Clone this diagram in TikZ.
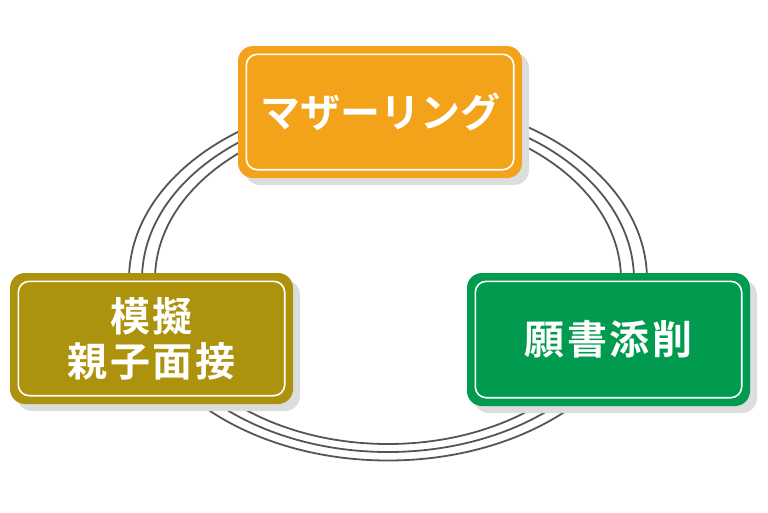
\documentclass[tikz,border=0pt]{standalone}
\usepackage{fontspec}
\newfontfamily\cjk{Noto Sans CJK JP}[BoldFont={Noto Sans CJK JP Bold}]
\newfontfamily\cjks{Noto Sans CJK JP}[BoldFont={Noto Sans CJK JP Bold}, LetterSpace=7]
\usetikzlibrary{shadows}
\definecolor{cOrange}{HTML}{F3A31A}
\definecolor{cOlive}{HTML}{AD930D}
\definecolor{cGreen}{HTML}{009B4F}
\definecolor{cShadow}{HTML}{DCDDDD}
\definecolor{cRing}{HTML}{555555}
\tikzset{
  ring/.style={draw=cRing, line width=1.8pt},
  card/.style={rounded corners=15pt, minimum width=284pt, minimum height=132pt,
    inner sep=0pt, text=white, align=center,
    font=\cjk\bfseries\fontsize{40pt}{45pt}\selectfont,
    drop shadow={shadow xshift=7pt, shadow yshift=-7pt, fill=cShadow, opacity=1}},
  kanji/.style={font=\cjks\bfseries\fontsize{40pt}{45pt}\selectfont},
  inner/.style={draw=white, line width=1.6pt, rounded corners=11pt}
}
\begin{document}
\begin{tikzpicture}[x=1pt,y=-1pt]
\useasboundingbox (0,0) rectangle (768,512);
\draw[ring] (388,279.5) ellipse [x radius=259, y radius=181];
\draw[ring] (388,279.5) ellipse [x radius=246, y radius=172.5];
\draw[ring] (388,279.5) ellipse [x radius=233, y radius=164.5];
\node[card, fill=cOrange] (mr) at (380,112) {マザーリング};
\node[card, kanji, fill=cOlive, minimum width=283pt, minimum height=131pt] (mk) at (151.5,338.5) {模擬\\親子面接};
\node[card, kanji, fill=cGreen, minimum width=283pt, minimum height=133pt] (gs) at (608.5,339.5) {願書添削};
\foreach \n in {mr,mk,gs}{
  \draw[inner] ([xshift=8.5pt,yshift=-8.5pt]\n.north west) rectangle ([xshift=-8.5pt,yshift=8.5pt]\n.south east);
}
\end{tikzpicture}
\end{document}
